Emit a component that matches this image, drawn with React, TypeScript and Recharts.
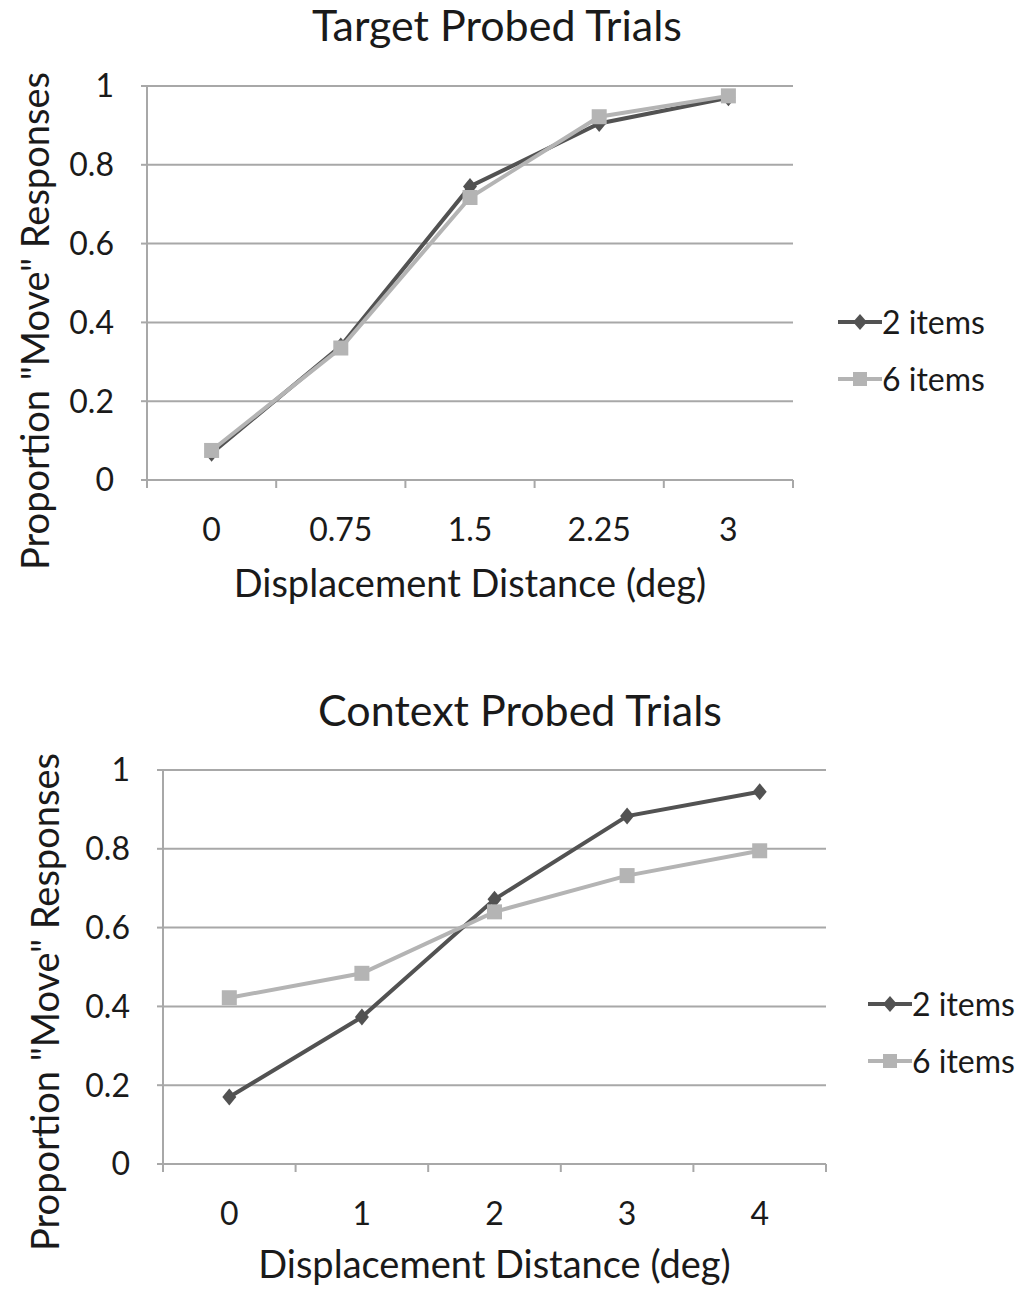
import React from 'react';
import { LineChart, Line, XAxis, YAxis, CartesianGrid, Legend } from 'recharts';

const targetCategories = ['0', '0.75', '1.5', '2.25', '3'];
const targetTwoItems = [0.068, 0.34, 0.745, 0.905, 0.97];
const targetSixItems = [0.075, 0.335, 0.717, 0.922, 0.975];

const contextCategories = ['0', '1', '2', '3', '4'];
const contextTwoItems = [0.17, 0.373, 0.672, 0.883, 0.945];
const contextSixItems = [0.422, 0.484, 0.64, 0.732, 0.795];

const yTicks = [0, 0.2, 0.4, 0.6, 0.8, 1];
const seriesNames = ['2 items', '6 items'];

const FONT = 'Lato, "Open Sans", sans-serif';
const DARK = '#525252';
const LIGHT = '#b4b4b4';
const GRID = '#a8a8a8';
const TEXT = '#1a1a1a';

const Diamond = (props: any) => {
  const { cx, cy } = props;
  if (cx == null || cy == null) return null;
  const w = 7, h = 8.5;
  return <polygon points={`${cx},${cy - h} ${cx + w},${cy} ${cx},${cy + h} ${cx - w},${cy}`} fill={DARK} />;
};
const Square = (props: any) => {
  const { cx, cy } = props;
  if (cx == null || cy == null) return null;
  const s = 7.5;
  return <rect x={cx - s} y={cy - s} width={2 * s} height={2 * s} fill={LIGHT} />;
};

const makeXTick = (labels: string[]) => (props: any) => {
  const { x, y, payload } = props;
  const v = payload.value;
  if (Number.isInteger(v)) {
    return (
      <text x={x} y={y + 53} textAnchor="middle" dominantBaseline="middle" fontFamily={FONT} fontSize={32} fill={TEXT}>
        {labels[v]}
      </text>
    );
  }
  return <line x1={x} x2={x} y1={y} y2={y + 8} stroke={GRID} strokeWidth={2} />;
};

const LegendContent = () => (
  <div style={{ fontFamily: FONT, fontSize: 32, color: TEXT }}>
    {seriesNames.map((name, i) => (
      <div key={name} style={{ display: 'flex', alignItems: 'center', height: 57 }}>
        <svg width={44} height={20} style={{ flex: 'none' }}>
          <line x1={0} x2={44} y1={10} y2={10} stroke={i === 0 ? DARK : LIGHT} strokeWidth={4} />
          {i === 0 ? (
            <polygon points="22,2 29,10 22,18 15,10" fill={DARK} />
          ) : (
            <rect x={15} y={3} width={14} height={14} fill={LIGHT} />
          )}
        </svg>
        <span style={{ marginLeft: 0, whiteSpace: 'nowrap' }}>{name}</span>
      </div>
    ))}
  </div>
);

type PanelProps = {
  title: string;
  categories: string[];
  two: number[];
  six: number[];
  top: number;
  height: number;
  margin: { top: number; right: number; bottom: number; left: number };
  titleX: number;
  titleY: number;
  labelDx: number;
  labelDy: number;
  xLabelOffset: number;
  legendLeft: number;
  legendTop: number;
};

const Panel = (p: PanelProps) => {
  const data = p.categories.map((c, i) => ({ i, cat: c, two: p.two[i], six: p.six[i] }));
  const xTicks: number[] = [];
  for (let k = -0.5; k <= p.categories.length - 0.5 + 1e-9; k += 0.5) xTicks.push(k);
  const YLabel = (lp: any) => {
    const vb = lp.viewBox || {};
    const cx = vb.x + p.labelDx;
    const cy = vb.y + vb.height / 2 + p.labelDy;
    return (
      <text x={cx} y={cy} transform={`rotate(-90 ${cx} ${cy})`} textAnchor="middle" dominantBaseline="middle" fontFamily={FONT} fontSize={38} fill={TEXT}>
        Proportion "Move" Responses
      </text>
    );
  };
  return (
    <div style={{ position: 'absolute', left: 0, top: p.top, width: 1028, height: p.height }}>
      <div style={{ position: 'absolute', left: p.titleX - 300, width: 600, top: p.titleY - p.top - 25, textAlign: 'center', fontFamily: FONT, fontSize: 43, color: TEXT, lineHeight: '50px' }}>
        {p.title}
      </div>
      <LineChart width={1028} height={p.height} data={data} margin={p.margin}>
        <CartesianGrid vertical={false} stroke={GRID} strokeWidth={2} />
        <XAxis
          dataKey="i"
          type="number"
          domain={[-0.5, p.categories.length - 0.5]}
          ticks={xTicks}
          interval={0}
          tickSize={0}
          tickMargin={0}
          tickLine={false}
          axisLine={{ stroke: GRID, strokeWidth: 2 }}
          height={130}
          tick={makeXTick(p.categories)}
          label={{ value: 'Displacement Distance (deg)', position: 'insideBottom', offset: p.xLabelOffset, fontFamily: FONT, fontSize: 38, fill: TEXT }}
        />
        <YAxis
          domain={[0, 1]}
          ticks={yTicks}
          interval={0}
          width={60}
          tickSize={6}
          tickMargin={27}
          tickLine={{ stroke: GRID, strokeWidth: 2 }}
          axisLine={{ stroke: GRID, strokeWidth: 2 }}
          tick={{ fontFamily: FONT, fontSize: 32, fill: TEXT }}
          label={{ content: YLabel }}
        />
        <Legend
          layout="vertical"
          align="center"
          verticalAlign="middle"
          content={LegendContent}
          wrapperStyle={{ left: p.legendLeft, top: p.legendTop, width: 190 }}
        />
        <Line dataKey="two" name={seriesNames[0]} stroke={DARK} strokeWidth={4} dot={Diamond} activeDot={false} isAnimationActive={false} />
        <Line dataKey="six" name={seriesNames[1]} stroke={LIGHT} strokeWidth={4} dot={Square} activeDot={false} isAnimationActive={false} />
      </LineChart>
    </div>
  );
};

export default function App() {
  return (
    <div style={{ position: 'absolute', left: 0, top: 0, width: 1028, height: 1300, background: '#fff' }}>
      <Panel
        title="Target Probed Trials"
        categories={targetCategories}
        two={targetTwoItems}
        six={targetSixItems}
        top={0}
        height={640}
        margin={{ top: 86, right: 235, bottom: 30, left: 87 }}
        titleX={497}
        titleY={25}
        labelDx={-48}
        labelDy={38}
        xLabelOffset={13}
        legendLeft={838}
        legendTop={293}
      />
      <Panel
        title="Context Probed Trials"
        categories={contextCategories}
        two={contextTwoItems}
        six={contextSixItems}
        top={640}
        height={660}
        margin={{ top: 130, right: 202, bottom: 6, left: 103 }}
        titleX={520}
        titleY={710}
        labelDx={-54}
        labelDy={35}
        xLabelOffset={16}
        legendLeft={868}
        legendTop={335}
      />
    </div>
  );
}
